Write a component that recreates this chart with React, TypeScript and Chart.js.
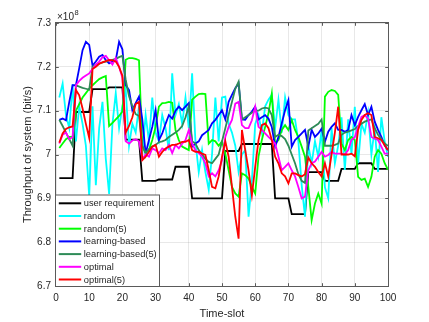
import React, { useEffect, useRef } from 'react';
import { Chart, registerables } from 'chart.js';

Chart.register(...registerables);

const FONT = '"Liberation Sans", Arial, Helvetica, sans-serif';

const timeSlots = Array.from({ length: 100 }, (_, i) => i + 1);

const xTickLabels = ['0', '10', '20', '30', '40', '50', '60', '70', '80', '90', '100'];
const yTickLabels = ['6.7', '6.8', '6.9', '7', '7.1', '7.2', '7.3'];
const xTitle = 'Time-slot';
const yTitle = 'Throughput of system (bit/s)';
const exponentBase = '\u00d710';
const exponentPower = '8';

const seriesNames = [
  'user requirement',
  'random',
  'random(5)',
  'learning-based',
  'learning-based(5)',
  'optimal',
  'optimal(5)',
];

const userRequirement = [
  6.946, 6.946, 6.946, 6.946, 6.946, 7.097, 7.097, 7.097, 7.097, 7.097,
  7.149, 7.149, 7.149, 7.149, 7.149, 7.153, 7.153, 7.153, 7.153, 7.153,
  7.034, 7.034, 7.034, 7.034, 7.034, 6.940, 6.940, 6.940, 6.940, 6.940,
  6.943, 6.943, 6.943, 6.943, 6.943, 6.972, 6.972, 6.972, 6.972, 6.972,
  6.900, 6.900, 6.900, 6.900, 6.900, 6.900, 6.900, 6.900, 6.900, 6.900,
  7.008, 7.008, 7.008, 7.008, 7.008, 7.024, 7.024, 7.024, 7.024, 7.024,
  7.024, 7.024, 7.024, 7.024, 7.024, 6.900, 6.900, 6.900, 6.900, 6.900,
  6.864, 6.864, 6.864, 6.864, 6.864, 6.960, 6.960, 6.960, 6.960, 6.960,
  6.940, 6.940, 6.940, 6.940, 6.940, 6.967, 6.967, 6.967, 6.967, 6.967,
  6.980, 6.980, 6.980, 6.980, 6.980, 6.967, 6.967, 6.967, 6.967, 6.967,
];

const randomSeries = [
  7.13, 7.162, 7.09, 7.06, 7.16, 7.03, 7.11, 7.07, 7.02, 6.905,
  7.11, 6.93, 7.06, 7.12, 6.99, 6.91, 7.07, 7.14, 7.06, 7.11,
  7.15, 7.02, 7.07, 7.05, 7.11, 7.0, 7.09, 7.03, 7.13, 7.05,
  7.03, 7.09, 7.06, 7.01, 7.185, 7.09, 7.115, 7.07, 7.13, 7.06,
  7.185, 7.03, 6.96, 7.01, 6.96, 6.92, 7.0, 7.13, 7.03, 7.13,
  7.132, 7.07, 7.05, 7.02, 6.96, 7.0, 7.01, 6.858, 6.94, 7.07,
  7.09, 7.05, 7.11, 7.125, 7.136, 7.06, 7.125, 7.05, 7.13, 7.09,
  7.08, 7.08, 7.03, 6.93, 6.858, 7.02, 6.98, 7.03, 6.995, 7.055,
  6.925, 6.9, 7.06, 6.98, 7.02, 7.085, 6.965, 7.08, 7.0, 7.109,
  6.98, 7.07, 7.05, 7.095, 7.0, 7.06, 6.96, 7.085, 7.03, 6.995,
];

const random5Series = [
  7.015, 7.025, 7.035, 7.04, 7.04, 7.1, 7.115, 7.13, 7.14, 7.15,
  7.158, 7.165, 7.172, 7.176, 7.179, 7.065, 7.072, 7.08, 7.088, 7.098,
  7.216, 7.22, 7.22, 7.218, 7.215, 7.018, 7.003, 7.01, 7.033, 7.063,
  7.109, 7.117, 7.118, 7.12, 7.118, 7.056, 7.033, 7.018, 7.014, 7.01,
  7.125, 7.132, 7.138, 7.139, 7.138, 7.025, 7.033, 7.03, 7.02, 7.03,
  7.002, 6.964, 6.926, 6.911, 6.904, 6.957, 6.953, 6.945, 6.926, 6.911,
  6.995, 7.033, 7.063, 7.094, 7.139, 7.025, 7.033, 7.056, 7.067, 7.056,
  7.079, 7.056, 7.04, 7.018, 6.995, 6.926, 6.85, 6.888, 6.911, 6.888,
  7.132, 7.143, 7.147, 7.145, 7.136, 7.025, 7.01, 7.033, 7.04, 7.033,
  6.949, 6.942, 6.945, 6.926, 6.949, 6.995, 7.01, 7.002, 6.98, 6.965,
];

const learningSeries = [
  7.079, 7.082, 7.078, 7.12, 7.158, 7.158, 7.197, 7.238, 7.257, 7.25,
  7.203, 7.212, 7.223, 7.227, 7.215, 7.208, 7.212, 7.215, 7.257, 7.24,
  7.158, 7.147, 7.101, 7.117, 7.132, 7.08, 7.002, 7.033, 7.063, 7.101,
  7.033, 7.048, 7.07, 7.09, 7.082, 7.1, 7.109, 7.101, 7.109, 7.117,
  7.018, 7.025, 7.03, 7.044, 7.05, 7.056, 7.071, 7.079, 7.09, 7.101,
  7.08, 7.12, 7.136, 7.151, 7.162, 7.08, 7.079, 7.09, 7.098, 7.109,
  7.08, 7.085, 7.09, 7.082, 7.063, 7.018, 7.04, 7.071, 7.101, 7.124,
  7.018, 7.033, 7.04, 7.048, 7.056, 7.018, 7.056, 7.04, 7.048, 7.059,
  7.029, 7.052, 7.063, 7.071, 7.056, 7.056, 7.052, 7.056, 7.09, 7.067,
  7.086, 7.101, 7.115, 7.09, 7.109, 7.075, 7.056, 7.04, 7.021, 7.01,
];

const learning5Series = [
  7.079, 7.065, 7.05, 7.035, 7.02, 7.158, 7.155, 7.152, 7.15, 7.148,
  7.2, 7.205, 7.207, 7.21, 7.212, 7.214, 7.216, 7.218, 7.222, 7.225,
  7.17, 7.133, 7.11, 7.092, 7.088, 7.02, 7.004, 7.012, 7.018, 7.022,
  7.028, 7.03, 7.033, 7.04, 7.045, 7.05, 7.056, 7.065, 7.085, 7.11,
  7.03, 7.025, 7.01, 7.0, 6.99, 6.983, 6.98, 6.99, 7.0, 7.03,
  7.06, 7.09, 7.12, 7.15, 7.166, 7.08, 7.085, 7.09, 7.095, 7.1,
  7.1, 7.105, 7.107, 7.105, 7.09, 7.04, 7.045, 7.042, 7.035, 7.02,
  7.0, 6.98, 6.955, 6.94, 6.935, 7.055, 7.06, 7.065, 7.07, 7.08,
  7.02, 7.02, 7.02, 7.022, 7.025, 7.045, 7.05, 7.052, 7.055, 7.058,
  7.065, 7.07, 7.075, 7.078, 7.08, 7.06, 7.045, 7.035, 7.025, 7.02,
];

const optimalSeries = [
  7.025, 7.045, 7.05, 7.035, 7.04, 7.158, 7.168, 7.175, 7.18, 7.185,
  7.195, 7.205, 7.212, 7.222, 7.225, 7.215, 7.205, 7.22, 7.2, 7.175,
  7.03, 7.025, 7.032, 7.035, 7.03, 6.99, 7.0, 6.995, 7.014, 7.01,
  7.003, 7.014, 7.01, 7.022, 7.003, 7.022, 7.014, 7.025, 7.033, 7.056,
  7.025, 7.01, 7.003, 6.995, 6.98, 6.95, 6.957, 6.95, 6.964, 6.987,
  7.04, 7.063, 7.079, 7.116, 7.12, 7.067, 7.06, 7.06, 7.078, 7.109,
  7.063, 7.056, 7.048, 7.04, 7.033, 7.025, 6.995, 6.964, 6.972, 6.98,
  6.964, 6.95, 6.926, 6.9, 6.904, 6.964, 6.98, 6.984, 6.995, 7.006,
  6.995, 6.999, 7.006, 7.002, 7.002, 7.002, 7.0, 7.01, 7.033, 7.04,
  7.063, 7.086, 7.09, 7.082, 7.04, 7.036, 7.033, 7.018, 7.002, 7.002,
];

const optimal5Series = [
  7.027, 7.048, 7.058, 7.062, 7.064, 7.147, 7.135, 7.105, 7.07, 7.038,
  7.195, 7.2, 7.207, 7.21, 7.213, 7.216, 7.215, 7.212, 7.2, 7.18,
  7.05, 7.065, 7.085, 7.115, 7.12, 6.987, 6.995, 7.006, 7.018, 7.022,
  6.995, 7.006, 7.014, 7.018, 7.022, 7.022, 7.025, 7.029, 7.029, 7.033,
  7.01, 7.006, 7.006, 7.002, 6.999, 6.964, 6.926, 6.923, 6.95, 6.995,
  7.03, 6.995, 6.926, 6.858, 6.808, 7.056, 7.01, 6.964, 6.907, 6.972,
  7.033, 7.067, 7.071, 7.06, 7.033, 6.995, 6.98, 6.957, 6.95, 6.934,
  6.957, 6.957, 6.953, 6.95, 6.955, 6.993, 6.98, 6.972, 6.96, 6.95,
  6.98, 6.95, 7.0, 7.05, 7.109, 7.0, 7.0, 7.0, 7.002, 6.996,
  7.056, 7.079, 7.09, 7.094, 7.09, 7.04, 7.037, 7.033, 7.021, 7.01,
];

const seriesValues = [
  userRequirement,
  randomSeries,
  random5Series,
  learningSeries,
  learning5Series,
  optimalSeries,
  optimal5Series,
];

const seriesColors = ['#000000', '#00ffff', '#00ff00', '#0000ff', '#2e8b57', '#ff00ff', '#ff0000'];

const AXIS_COLOR = '#262626';
const BOX_COLOR = '#5a5a5a';

const frame = {
  id: 'matlabFrame',
  afterDatasetsDraw(chart: any) {
    const { ctx, chartArea } = chart;
    const { left, right, top, bottom } = chartArea;
    const xs = chart.scales.x;
    const ys = chart.scales.y;
    ctx.save();
    ctx.strokeStyle = BOX_COLOR;
    ctx.lineWidth = 1;
    const L = Math.round(left) - 0.5;
    const R = Math.round(right) + 0.5;
    const T = Math.round(top) - 0.5;
    const B = Math.round(bottom) + 0.5;
    ctx.strokeRect(L, T, R - L, B - T);
    const tl = 3.3;
    ctx.beginPath();
    xs.ticks.forEach((t: any) => {
      const px = Math.round(xs.getPixelForValue(t.value)) + 0.5;
      ctx.moveTo(px, B);
      ctx.lineTo(px, B - tl);
      ctx.moveTo(px, T);
      ctx.lineTo(px, T + tl);
    });
    ys.ticks.forEach((t: any) => {
      const py = Math.round(ys.getPixelForValue(t.value)) + 0.5;
      ctx.moveTo(L, py);
      ctx.lineTo(L + tl, py);
      ctx.moveTo(R, py);
      ctx.lineTo(R - tl, py);
    });
    ctx.stroke();

    // exponent label
    ctx.fillStyle = AXIS_COLOR;
    ctx.textBaseline = 'middle';
    ctx.textAlign = 'left';
    ctx.font = `10px ${FONT}`;
    ctx.fillText(exponentBase, left + 1, top - 6);
    const w = ctx.measureText(exponentBase).width;
    ctx.font = `7.5px ${FONT}`;
    ctx.fillText(exponentPower, left + 1 + w + 0.5, top - 10.5);
    ctx.restore();
  },
  afterDraw(chart: any) {
    const { ctx, chartArea } = chart;
    const { left, bottom } = chartArea;
    const boxW = 104;
    const rowH = 12.7;
    const boxH = 91.5;
    const x0 = Math.round(left) - 0.5;
    const y1 = Math.round(bottom) + 0.5;
    const y0 = y1 - boxH;
    ctx.save();
    ctx.fillStyle = '#ffffff';
    ctx.fillRect(x0, y0, boxW, boxH);
    ctx.strokeStyle = BOX_COLOR;
    ctx.lineWidth = 1;
    ctx.strokeRect(x0, y0, boxW, boxH);
    ctx.font = `9.3px ${FONT}`;
    ctx.textBaseline = 'middle';
    ctx.textAlign = 'left';
    seriesNames.forEach((name, i) => {
      const cy = y0 + 8.3 + rowH * i;
      ctx.strokeStyle = seriesColors[i];
      ctx.lineWidth = 2;
      ctx.beginPath();
      ctx.moveTo(x0 + 3.3, cy);
      ctx.lineTo(x0 + 25.7, cy);
      ctx.stroke();
      ctx.fillStyle = AXIS_COLOR;
      ctx.fillText(name, x0 + 28.3, cy + 0.5);
    });
    ctx.restore();
  },
};

export default function App() {
  const canvasRef = useRef<HTMLCanvasElement | null>(null);

  useEffect(() => {
    const canvas = canvasRef.current;
    if (!canvas) return;
    const datasets = seriesNames.map((name, i) => ({
      label: name,
      data: timeSlots.map((t, j) => ({ x: t, y: seriesValues[i][j] })),
      borderColor: seriesColors[i],
      backgroundColor: seriesColors[i],
      borderWidth: 1.8,
      pointRadius: 0,
      tension: 0,
      fill: false,
      order: seriesNames.length - 1 - i,
    }));
    const chart = new Chart(canvas, {
      type: 'line',
      data: { datasets },
      plugins: [frame],
      options: {
        responsive: false,
        animation: false,
        devicePixelRatio: 1,
        layout: { padding: { top: 23, right: 41, left: 0, bottom: 0 } },
        plugins: {
          legend: { display: false },
          tooltip: { enabled: false },
          title: { display: false },
        },
        scales: {
          x: {
            type: 'linear',
            min: 0,
            max: 100,
            ticks: {
              stepSize: 10,
              autoSkip: false,
              maxRotation: 0,
              color: AXIS_COLOR,
              font: { family: FONT, size: 10 },
              padding: 6,
              callback: (_v: any, index: number) => xTickLabels[index],
            },
            grid: { color: 'rgba(0,0,0,0.09)', drawTicks: false, lineWidth: 1 },
            border: { display: false },
            title: {
              display: true,
              text: xTitle,
              color: AXIS_COLOR,
              font: { family: FONT, size: 11 },
              padding: { top: 0, bottom: 1.8 },
            },
            afterFit: (s: any) => {
              s.height = 36;
            },
          },
          y: {
            type: 'linear',
            min: 6.7,
            max: 7.3,
            ticks: {
              stepSize: 0.1,
              autoSkip: false,
              color: AXIS_COLOR,
              font: { family: FONT, size: 10 },
              padding: 5,
              callback: (_v: any, index: number) => yTickLabels[index],
            },
            grid: { color: 'rgba(0,0,0,0.09)', drawTicks: false, lineWidth: 1 },
            border: { display: false },
            title: {
              display: true,
              text: yTitle,
              color: AXIS_COLOR,
              font: { family: FONT, size: 11 },
              padding: { top: 21.4, bottom: 0 },
            },
            afterFit: (s: any) => {
              s.width = 56;
            },
          },
        },
      },
    });
    return () => chart.destroy();
  }, []);

  return (
    <div style={{ position: 'fixed', left: 0, top: 0, width: 429, height: 322, background: '#ffffff' }}>
      <canvas ref={canvasRef} width={429} height={322} style={{ display: 'block', width: 429, height: 322 }} />
    </div>
  );
}
